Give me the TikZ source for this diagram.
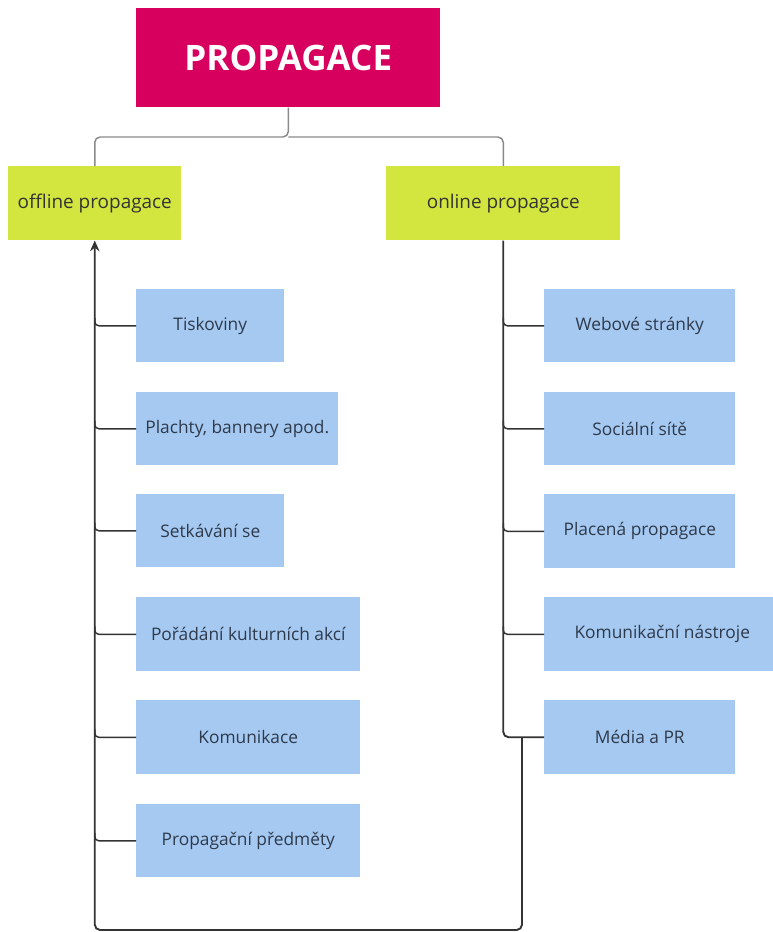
\documentclass[tikz,border=0pt]{standalone}
\usepackage{fontspec}
\setmainfont{Open Sans}
\usetikzlibrary{arrows.meta}
\definecolor{magentabox}{HTML}{D8005F}
\definecolor{limebox}{HTML}{D3E63F}
\definecolor{bluebox}{HTML}{A5C9F1}
\definecolor{txtdark}{HTML}{2E3A4C}
\definecolor{topline}{HTML}{8A8A8A}
\definecolor{trunk}{HTML}{333333}
\begin{document}
\begin{tikzpicture}[x=0.75pt,y=-0.75pt,
  boxbase/.style={anchor=north west,inner sep=0pt,text=txtdark,font=\fontsize{13}{15}\selectfont},
  itembox/.style={boxbase,fill=bluebox},
  catbox/.style={boxbase,fill=limebox,text=trunk,font=\fontsize{14.2}{16}\selectfont},
  toplink/.style={draw=topline,line width=1.1pt,rounded corners=4pt},
  trunkline/.style={draw=trunk,line width=1.4pt,rounded corners=4pt},
  branch/.style={draw=trunk,line width=1.1pt,rounded corners=3pt}]
\useasboundingbox (0,0) rectangle (772,932);
\fill[white] (0,0) rectangle (772,932);
% root
\node[boxbase,fill=magentabox,minimum width=304*0.75pt,minimum height=99*0.75pt,text=white,font=\fontsize{26.3}{30}\selectfont\bfseries] (root) at (136,8) {PROPAGACE};
% categories
\node[catbox,minimum width=173*0.75pt,minimum height=74*0.75pt] (off) at (8,166) {offline propagace};
\node[catbox,minimum width=234*0.75pt,minimum height=74*0.75pt] (on) at (386,166) {online propagace};
% left items
\node[itembox,minimum width=148*0.75pt,minimum height=73*0.75pt] (l1) at (136,289) {Tiskoviny};
\node[itembox,minimum width=202*0.75pt,minimum height=73*0.75pt] (l2) at (136,392) {Plachty, bannery apod.};
\node[itembox,minimum width=148*0.75pt,minimum height=73*0.75pt] (l3) at (136,494) {Setkávání se};
\node[itembox,minimum width=224*0.75pt,minimum height=74*0.75pt] (l4) at (136,597) {Pořádání kulturních akcí};
\node[itembox,minimum width=224*0.75pt,minimum height=74*0.75pt] (l5) at (136,700) {Komunikace};
\node[itembox,minimum width=224*0.75pt,minimum height=73*0.75pt] (l6) at (136,804) {Propagační předměty};
% right items
\node[itembox,minimum width=191*0.75pt,minimum height=73*0.75pt] (r1) at (544,289) {Webové stránky};
\node[itembox,minimum width=191*0.75pt,minimum height=73*0.75pt] (r2) at (544,392) {Sociální sítě};
\node[itembox,minimum width=191*0.75pt,minimum height=74*0.75pt] (r3) at (544,494) {Placená propagace};
\node[itembox,minimum width=236*0.75pt,minimum height=74*0.75pt] (r4) at (544,597) {Komunikační nástroje};
\node[itembox,minimum width=191*0.75pt,minimum height=74*0.75pt] (r5) at (544,700) {Média a PR};
% top links
\coordinate (split) at (root.south |- 0,137);
\draw[toplink] (root.south) -- (split) -| (off.north);
\draw[toplink] (split) -| (on.north);
% left branches
\foreach \n in {l1,l2,l3,l4,l5,l6}{
  \draw[branch] ([yshift=8*0.75pt]\n.west -| off.south) |- (\n.west);
}
% right trunk and branches
\draw[trunkline] (on.south) |- (r5.west);
\foreach \n in {r1,r2,r3,r4}{
  \draw[branch] ([yshift=8*0.75pt]\n.west -| on.south) |- (\n.west);
}
% loop back to offline
\coordinate (loopstart) at (522,0 |- r5.west);
\coordinate (loopbottom) at (0,930);
\draw[trunkline,-{Stealth[length=8pt,width=7pt]}] (loopstart) -- (loopstart |- loopbottom) -- (off.south |- loopbottom) -- (off.south);
\end{tikzpicture}
\end{document}
